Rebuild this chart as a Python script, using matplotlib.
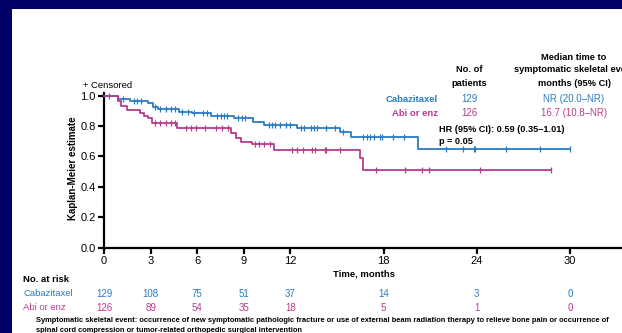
import numpy as np
import matplotlib
matplotlib.use("Agg")
import matplotlib.pyplot as plt
import matplotlib.transforms as mtransforms
from matplotlib.patches import Rectangle

plt.rcParams['font.family'] = ['Liberation Sans Narrow', 'Liberation Sans', 'DejaVu Sans']

# ---------------- data ----------------
groups = ["Cabazitaxel", "Abi or enz"]
n_patients = [129, 126]
median_text = ["NR (20.0\u2013NR)", "16.7 (10.8\u2013NR)"]

cab_times = [0, 0.9, 1.7, 2.85, 3.15, 3.5, 4.8, 5.65, 6.9, 8.4, 9.6, 10.3, 12.45, 15.2, 15.9, 20.2]
cab_surv = [1.0, 0.976, 0.965, 0.95, 0.926, 0.911, 0.894, 0.883, 0.867, 0.85, 0.83, 0.808, 0.79, 0.76, 0.727, 0.647]
cab_end = 30.0
cab_censor = [0.3, 1.2, 1.9, 2.1, 2.4, 3.3, 3.6, 4.0, 4.3, 4.6, 5.0, 5.4, 5.8, 6.4, 6.6,
              7.3, 7.5, 7.7, 7.9, 8.6, 8.9, 9.1, 10.6, 10.8, 11.0, 11.3, 11.7, 12.0,
              12.7, 12.9, 13.3, 13.5, 13.7, 14.3, 14.9, 15.4, 16.7, 16.9, 17.1, 17.4,
              17.8, 17.9, 18.6, 19.3, 22.0, 23.1, 23.8, 23.9, 25.9, 28.1, 30.0]

abi_times = [0, 0.9, 1.1, 1.45, 2.3, 2.6, 2.85, 3.07, 4.68, 8.2, 8.5, 8.85, 9.5, 10.95, 16.45, 16.7]
abi_surv = [1.0, 0.965, 0.93, 0.905, 0.888, 0.867, 0.85, 0.822, 0.787, 0.752, 0.72, 0.695, 0.68, 0.645, 0.59, 0.508]
abi_end = 28.8
abi_censor = [3.3, 3.6, 4.0, 4.3, 4.6, 5.3, 5.6, 5.9, 6.5, 7.2, 7.6, 8.0, 9.7, 10.0, 10.3,
              10.7, 12.1, 12.4, 12.8, 13.4, 13.6, 14.2, 14.3, 15.2, 17.5, 19.4, 20.5,
              20.9, 24.2, 28.8]

risk_times = [0, 3, 6, 9, 12, 18, 24, 30]
cab_risk = [129, 108, 75, 51, 37, 14, 3, 0]
abi_risk = [126, 89, 54, 35, 18, 5, 1, 0]

yticks = [0.0, 0.2, 0.4, 0.6, 0.8, 1.0]

hr_text = "HR (95% CI): 0.59 (0.35\u20131.01)"
p_text = "p = 0.05"
footnote1 = ("Symptomatic skeletal event: occurrence of new symptomatic pathologic fracture or use of "
             "external beam radiation therapy to relieve bone pain or occurrence of")
footnote2 = "spinal cord compression or tumor-related orthopedic surgical intervention"

# ---------------- styles ----------------
BLUE = '#2B7BC2'
PINK = '#B63C8E'
NAVY = '#000066'
W, H = 622, 333

fig = plt.figure(figsize=(W / 100, H / 100), dpi=100)
fig.patch.set_facecolor(NAVY)
fig.patches.append(Rectangle((12 / W, 0), 1 - 12 / W, 1 - 9 / H, transform=fig.transFigure,
                             facecolor='white', edgecolor='none', zorder=-10))

def fx(x):
    return x / W

def fy(y):
    return 1 - y / H

# axes: x=0 at px 104, x=30 at px 570; y=0 at px 247.5, y=1 at px 95.7
px_per_month = (570 - 104) / 30
xmax = (W - 104) / px_per_month
px_per_unit = 247.5 - 95.7
ytop = 1.02
ax = fig.add_axes([fx(104), fy(247.5), (W - 104) / W, (ytop * px_per_unit) / H])
ax.set_xlim(0, xmax)
ax.set_ylim(0, ytop)
ax.patch.set_alpha(0)
for s in ['top', 'right']:
    ax.spines[s].set_visible(False)
for s in ['left', 'bottom']:
    ax.spines[s].set_linewidth(1.6)
ax.set_xticks(risk_times)
ax.set_yticks(yticks)
ax.set_yticklabels([f"{v:.1f}" for v in yticks])
ax.tick_params(axis='both', direction='out', length=4, width=1.6, labelsize=8, pad=2)


def draw_km(times, surv, end, censor, color):
    t = list(times) + [end]
    s = list(surv) + [surv[-1]]
    ax.step(t, s, where='post', color=color, lw=1.3, zorder=3, clip_on=False)
    tt = np.asarray(times)
    cs = [surv[np.searchsorted(tt, c, side='right') - 1] for c in censor]
    ax.plot(censor, cs, ls='none', marker='|', ms=3.8, mew=0.9, color=color, zorder=4, clip_on=False)


draw_km(cab_times, cab_surv, cab_end, cab_censor, BLUE)
draw_km(abi_times, abi_surv, abi_end, abi_censor, PINK)

# labels
fig.text(fx(83), fy(86), "+ Censored", fontsize=6.8, ha='left', va='center')
fig.text(fx(73), fy(168), "Kaplan-Meier estimate", fontsize=7, fontweight='bold',
         rotation=90, ha='center', va='center')
fig.text(fx(364), fy(274), "Time, months", fontsize=6.8, fontweight='bold', ha='center', va='center')

# header table
fig.text(fx(469), fy(70), "No. of", fontsize=6.7, fontweight='bold', ha='center', va='center')
fig.text(fx(469), fy(84), "patients", fontsize=6.7, fontweight='bold', ha='center', va='center')
fig.text(fx(574), fy(57), "Median time to", fontsize=6.7, fontweight='bold', ha='center', va='center')
fig.text(fx(574), fy(70), "symptomatic skeletal event", fontsize=6.7, fontweight='bold', ha='center', va='center')
fig.text(fx(574), fy(84), "months (95% CI)", fontsize=6.7, fontweight='bold', ha='center', va='center')
for i, (g, n, m, c) in enumerate(zip(groups, n_patients, median_text, [BLUE, PINK])):
    y = 99 + 14 * i
    fig.text(fx(438), fy(y), g, fontsize=6.8, fontweight='bold', color=c, ha='right', va='center')
    fig.text(fx(469), fy(y), str(n), fontsize=7, color=c, ha='center', va='center')
    fig.text(fx(574), fy(y), m, fontsize=7, color=c, ha='center', va='center')
fig.text(fx(439), fy(129), hr_text, fontsize=6.6, fontweight='bold', ha='left', va='center')
fig.text(fx(439), fy(142), p_text, fontsize=6.6, fontweight='bold', ha='left', va='center')

# risk table
trans = mtransforms.blended_transform_factory(ax.transData, fig.transFigure)
fig.text(fx(23), fy(279), "No. at risk", fontsize=6.8, fontweight='bold', ha='left', va='center')
for i, (g, vals, c) in enumerate(zip(groups, [cab_risk, abi_risk], [BLUE, PINK])):
    y = 294 + 14 * i
    fig.text(fx(23), fy(y), g, fontsize=6.8, color=c, ha='left', va='center')
    for t, v in zip(risk_times, vals):
        ax.text(t, fy(y), str(v), transform=trans, fontsize=7, color=c, ha='center', va='center')

fig.text(fx(36), fy(321), footnote1, fontsize=5.45, fontweight='bold', ha='left', va='center')
fig.text(fx(36), fy(331), footnote2, fontsize=5.45, fontweight='bold', ha='left', va='center')

fig.savefig("out.png", dpi=100, facecolor=fig.get_facecolor())
